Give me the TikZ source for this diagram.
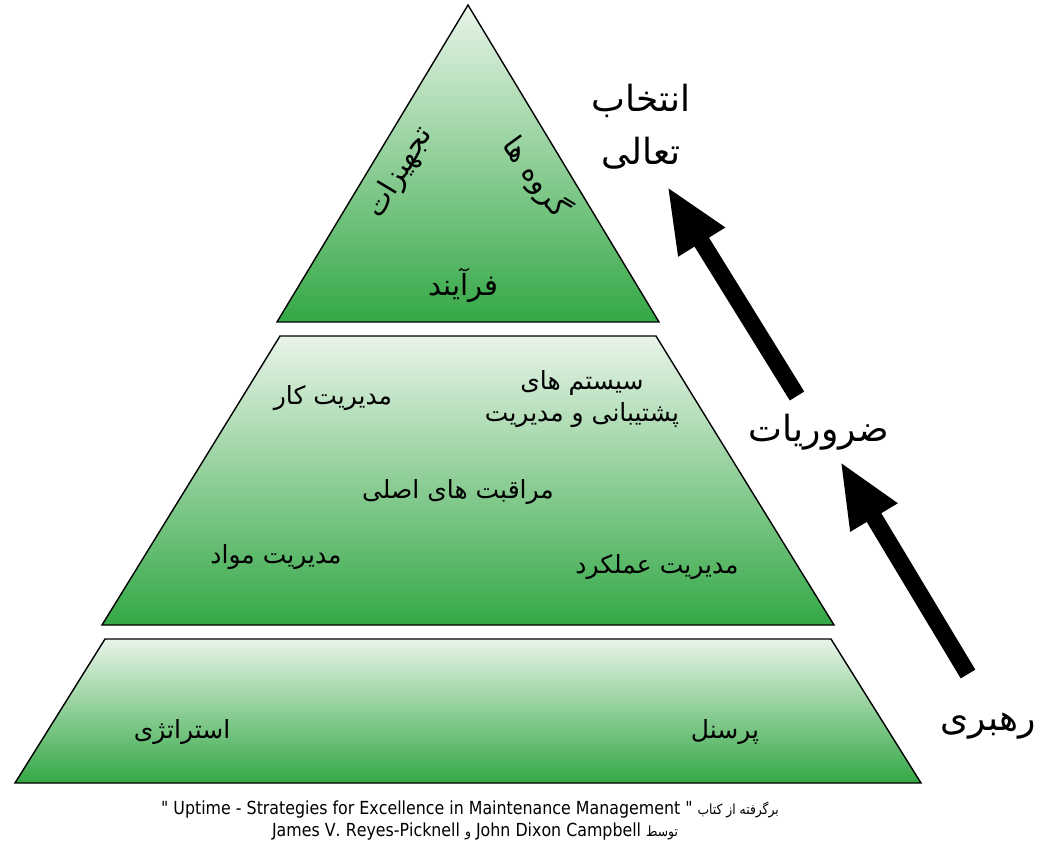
\documentclass[tikz,border=0pt]{standalone}
\usepackage{fontspec}
\usetikzlibrary{arrows.meta,positioning}
\TeXXeTstate=1
\newfontfamily\fafont[Script=Arabic]{DejaVu Sans}
\newfontfamily\notefont[Script=Arabic,FakeStretch=0.88]{DejaVu Sans}
\definecolor{pyrgreen}{RGB}{52,168,70}
\definecolor{pyrlight}{RGB}{232,244,232}

\tikzset{
  tier/.style={draw=black, line width=1.4pt, top color=pyrlight, bottom color=pyrgreen},
  word/.style={inner sep=0pt, font=\fafont\fontsize{25}{32}\selectfont},
  topword/.style={inner sep=0pt, font=\fafont\fontsize{29}{34}\selectfont},
  bigword/.style={inner sep=0pt, align=center, font=\fafont\fontsize{36}{53}\selectfont},
  note/.style={inner sep=0pt, font=\notefont\fontsize{18}{20}\selectfont},
  uparrow/.style={line width=17pt, -{Triangle[length=66pt,width=50pt]}}
}
\newcommand{\smallfa}[1]{{\fontsize{14}{18}\selectfont #1}}

\begin{document}
\begin{tikzpicture}[x=1pt,y=1pt]
  \useasboundingbox (0,0) rectangle (1049,847);

  % Tiers of the pyramid
  \path[tier] (468,842) -- (659,525) -- (277,525) -- cycle;
  \path[tier] (280,511) -- (656,511) -- (834,222) -- (102,222) -- cycle;
  \path[tier] (105,208) -- (831,208) -- (921,64) -- (15,64) -- cycle;

  % top tier
  \node[topword] (process) at (463,562) {\beginR فرآیند\endR};
  \node[topword, rotate=59] (equip) at (400,674) {\beginR تجهیزات\endR};
  \node[topword, rotate=-54] (groups) at (536,670) {\beginR گروه ها\endR};

  % middle tier
  \node[word, align=center] (support) at (582,448)
    {\beginR سیستم های\endR\\\beginR پشتیبانی و مدیریت\endR};
  \node[word] (work) at (333,449) {\beginR مدیریت کار\endR};
  \node[word] (care) at (458,355) {\beginR مراقبت های اصلی\endR};
  \node[word] (material) at (276,290) {\beginR مدیریت مواد\endR};
  \node[word] (perform) at (657,280) {\beginR مدیریت عملکرد\endR};

  % bottom tier
  \node[word] (strategy) at (182,115) {\beginR استراتژی\endR};
  \node[word] (staff) at (725,115) {\beginR پرسنل\endR};

  % side labels
  \node[bigword] (excel) at (641,720) {\beginR انتخاب\endR\\\beginR تعالی\endR};
  \node[bigword] (needs) at (819,415) {\beginR ضروریات\endR};
  \node[bigword] (leader) at (988,121) {\beginR رهبری\endR};

  % arrows
  \coordinate (lead-tail) at (968,173);
  \coordinate (lead-tip) at (840,386);
  \coordinate (need-tail) at (797,451);
  \coordinate (need-tip) at (667,661);
  \draw[uparrow] (lead-tail) -- (lead-tip);
  \draw[uparrow] (need-tail) -- (need-tip);

  % source
  \node[note] (src) at (470,37)
    {\beginR\smallfa{برگرفته از کتاب} \beginL" Uptime - Strategies for Excellence in Maintenance Management "\endL\endR};
  \node[note] (authors) at (475,15)
    {\beginR\smallfa{توسط} \beginL John Dixon Campbell\endL{} \smallfa{و} \beginL James V. Reyes-Picknell\endL\endR};
\end{tikzpicture}
\end{document}
